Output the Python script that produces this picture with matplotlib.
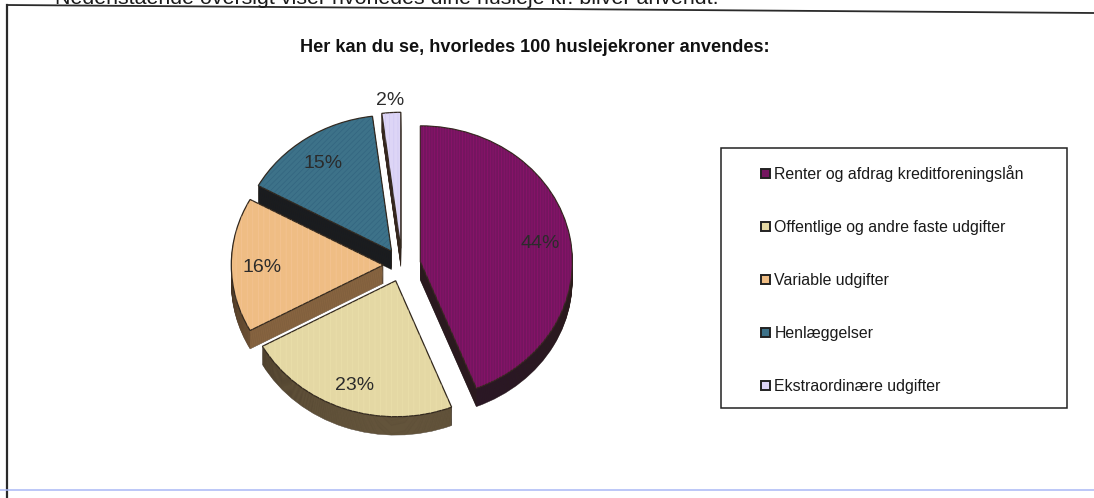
import numpy as np
import matplotlib
matplotlib.use("Agg")
import matplotlib.pyplot as plt

plt.rcParams['font.family'] = ['Liberation Sans', 'DejaVu Sans']
plt.rcParams['hatch.linewidth'] = 0.5

W, H = 1094, 498

labels = ["Renter og afdrag kreditforeningslån", "Offentlige og andre faste udgifter",
          "Variable udgifter", "Henlæggelser", "Ekstraordinære udgifter"]
values = [44, 23, 16, 15, 2]
title = "Her kan du se, hvorledes 100 huslejekroner anvendes:"
top_text = "Nedenstående oversigt viser hvorledes dine husleje kr. bliver anvendt."

top_colors = ["#74155f", "#e4d8a4", "#efbd84", "#3d7289", "#ddd5f6"]
wall_colors = ["#2b1230", "#8d7a55", "#d39c62", "#0e1a26", "#6b4a42"]
stripe_colors = ["#a50f78", "#f0e6b0", "#f7c9a0", "#2a5a78", "#c8c0f0"]
hatches = ["||||||", "|||", "|||", "//////", "||||"]

explode = [0.123] * 5

fig = plt.figure(figsize=(W / 100, H / 100), dpi=100)

# background axes in pixels, frame and legend box live here
bg = fig.add_axes([0, 0, 1, 1])
bg.set_xlim(0, W)
bg.set_ylim(H, 0)
bg.axis("off")

bg.plot([7, 1094], [5, 13], color="#2a2a2a", lw=1.3)
bg.plot([7, 7], [5, 498], color="#2a2a2a", lw=1.6)
bg.plot([0, 1094], [490, 490], color="#a9b8f5", lw=1.1)
bg.text(55, 4, top_text, fontsize=15.4, color="#1a1a1a", ha="left", va="baseline")
bg.text(535, 47, title, fontsize=13.1, fontweight="bold", color="#111111", ha="center", va="center")
bg.add_patch(plt.Rectangle((721, 148), 346, 260, facecolor="white", edgecolor="#222222", lw=1.1))

# pie axes: 1 data unit = 152 px across, 136 px down, that gives the tilted look
cx, cy, rx, ry = 402, 265, 152, 136
span = 1.6
ax = fig.add_axes([(cx - span * rx) / W, 1 - (cy + span * ry) / H, 2 * span * rx / W, 2 * span * ry / H])

for d in np.linspace(0.135, 0.005, 20):
    ax.pie(values, explode=explode, colors=wall_colors, startangle=90, counterclock=False,
           center=(0, -d), wedgeprops={"linewidth": 0.3, "edgecolor": "#2a2018"})

wedges, _, pcts = ax.pie(values, explode=explode, colors=top_colors, startangle=90, counterclock=False,
                         autopct="%d%%", pctdistance=0.8,
                         textprops={"fontsize": 14, "color": "#2b2b2b"},
                         wedgeprops={"linewidth": 0.9, "edgecolor": "#33291f"})

# scan stripes on the top faces
stripes, _ = ax.pie(values, explode=explode, colors=["none"] * 5, startangle=90, counterclock=False,
                    wedgeprops={"linewidth": 0})
for s, c, h in zip(stripes, stripe_colors, hatches):
    s.set_facecolor("none")
    s.set_edgecolor(c)
    s.set_hatch(h)
    s.set_alpha(0.55)

# labels have to stay on top of the stripes
for p in pcts:
    x, y = p.get_position()
    p.set_position((x, y - 0.015))
    p.set_zorder(5)

# the 2% label sits outside its slice
x, y = pcts[4].get_position()
pcts[4].set_position((x - 0.02, y + 0.3))

ax.set_aspect("auto")
ax.set_xlim(-span, span)
ax.set_ylim(-span, span)
ax.patch.set_alpha(0)
ax.axis("off")

leg = bg.legend(wedges, labels, loc="upper left", bbox_to_anchor=(761, 165), bbox_transform=bg.transData,
                frameon=False, fontsize=11.4, borderpad=0, borderaxespad=0, labelspacing=2.4,
                handlelength=0.55, handleheight=0.55, handletextpad=0.3, labelcolor="#1a1a1a")
for h in leg.get_patches():
    h.set_edgecolor("#222222")
    h.set_linewidth(1.4)

fig.savefig("out.png", dpi=100)
